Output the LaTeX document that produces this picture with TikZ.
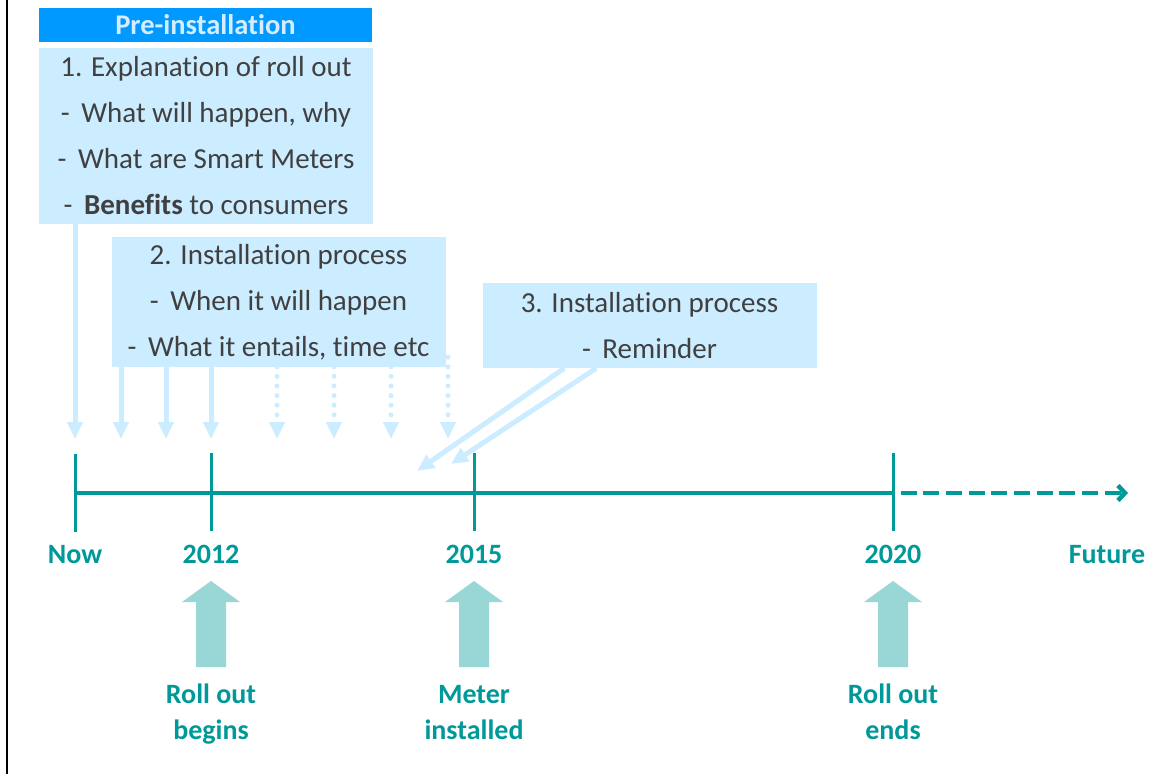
\documentclass[tikz,border=0pt]{standalone}
\usepackage{fontspec}
\setmainfont{Carlito}[Ligatures={NoCommon,NoRequired,NoContextual}]
\usetikzlibrary{arrows.meta}
\definecolor{axisTeal}{RGB}{0,153,153}
\definecolor{paleTeal}{RGB}{153,214,214}
\definecolor{noteFill}{RGB}{204,236,255}
\definecolor{headFill}{RGB}{0,153,255}
\definecolor{headText}{RGB}{214,236,255}
\definecolor{noteText}{RGB}{64,64,64}
\begin{document}
\begin{tikzpicture}[x=1pt,y=-1pt,
  note/.style={fill=noteFill, inner sep=0pt, align=center, text=noteText,
    font=\fontsize{29}{46}\selectfont, minimum width=334pt},
  cue/.style={draw=noteFill, line width=5pt, -{Triangle[width=15pt,length=17pt]}},
  cuedots/.style={cue, line cap=round, dash pattern=on 0pt off 9.6pt},
  axis/.style={draw=axisTeal, line width=3.5pt},
  tickmark/.style={draw=axisTeal, line width=3pt},
  yearlab/.style={text=axisTeal, font=\fontsize{28}{36}\selectfont\bfseries,
    inner sep=0pt, anchor=base},
  evlab/.style={yearlab, align=center},
  bigup/.pic={\fill[paleTeal] (-15,0) -- (-15,-65) -- (-29,-65) -- (0,-86)
    -- (29,-65) -- (15,-65) -- (15,0) -- cycle;}
]
\fill[white] (0,0) rectangle (1169,774);
\useasboundingbox (0,0) rectangle (1169,774);

% page rule on the left
\draw[line width=2pt] (6.7,0) -- (6.7,774);

% information boxes
\node[fill=headFill, minimum width=333pt, minimum height=34pt, inner sep=0pt,
  text=headText, font=\fontsize{28.5}{34}\selectfont\bfseries] (head) at (205.5,25) {Pre-installation};
\node[note, minimum height=176pt] (n1) at (206,136)
  {1. Explanation of roll out\\
   -\hspace{0.4em}What will happen, why\\
   -\hspace{0.4em}What are Smart Meters\\
   -\hspace{0.4em}\textbf{Benefits} to consumers};
\node[note, minimum height=130pt] (n2) at (278.5,302)
  {2. Installation process\\
   -\hspace{0.4em}When it will happen\\
   -\hspace{0.4em}What it entails, time etc};
\node[note, minimum height=85pt] (n3) at (649.5,325.5)
  {3. Installation process\\
   -\hspace{0.4em}Reminder};

% arrow tips above the time line
\coordinate (t0) at (75,439);
\coordinate (t1) at (121,439);
\coordinate (t2) at (166,439);
\coordinate (t3) at (211,439);
\coordinate (p1) at (277,439);
\coordinate (p2) at (334,439);
\coordinate (p3) at (391,439);
\coordinate (p4) at (448,439);
\coordinate (r1) at (417,471);
\coordinate (r2) at (451,464);

\draw[cue] (n1.south -| t0) -- (t0);
\foreach \t in {t1,t2,t3} \draw[cue] (n2.south -| \t) -- (\t);
\foreach \p in {p1,p2,p3,p4} \draw[cuedots] ([yshift=10pt]n2.south -| \p) -- (\p);
\draw[cue] ([xshift=82pt]n3.south west) -- (r1);
\draw[cue] ([xshift=114pt]n3.south west) -- (r2);

% time line
\coordinate (a0) at (75,493);
\coordinate (a20) at (893,493);
\coordinate (ds) at (787,493);
\coordinate (ae) at (1128,493);
\draw[axis] (a0) -- (a20);
\draw[axis, line width=4.5pt, dash pattern=on 16pt off 6.7pt,
  -{Straight Barb[length=7pt,width=15pt]}] (ds) -- (ae);

\node[yearlab] (now) at (75,563) {Now};
\node[yearlab] (y12) at (211,563) {2012};
\node[yearlab] (y15) at (474,563) {2015};
\node[yearlab] (y20) at (893,563) {2020};
\node[yearlab] (fut) at (1107,563) {Future};

\foreach \y in {now,y12,y15,y20}
  \draw[tickmark] ([yshift=13pt]\y.north) -- ++(0,-78);

% milestones
\pic at (211,667) {bigup};
\pic at (474,667) {bigup};
\pic at (893,667) {bigup};
\node[evlab] (e12) at (211,739) {Roll out\\begins};
\node[evlab] (e15) at (474,739) {Meter\\installed};
\node[evlab] (e20) at (893,739) {Roll out\\ends};
\end{tikzpicture}
\end{document}
